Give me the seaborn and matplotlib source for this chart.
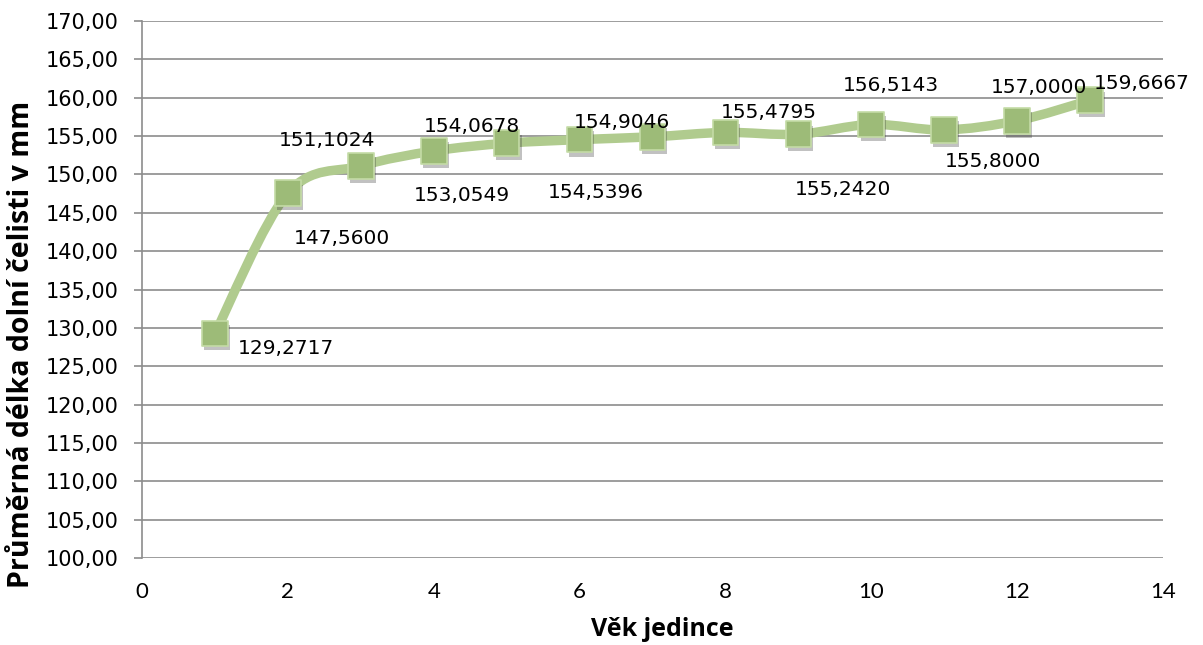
import numpy as np
import pandas as pd
import seaborn as sns
import matplotlib.pyplot as plt
from matplotlib.path import Path
from matplotlib.patches import PathPatch
from matplotlib.ticker import FuncFormatter
import matplotlib.patheffects as pe

# Mean mandible length by age
age = [1, 2, 3, 4, 5, 6, 7, 8, 9, 10, 11, 12, 13]
mean_length = [129.2717, 147.5600, 151.1024, 153.0549, 154.0678, 154.5396,
               154.9046, 155.4795, 155.2420, 156.5143, 155.8000, 157.0000,
               159.6667]

# Value-label offsets in points (dx, dy) relative to each marker
label_offsets = [(51, -11), (39, -33), (-24, 18), (20, -32), (-25, 12),
                 (12, -38), (-22, 10), (31, 14), (32, -40), (14, 28),
                 (35, -23), (16, 24), (37, 12)]

df = pd.DataFrame({"age": age, "length": mean_length})

sns.set_theme(style="white")
plt.rcParams["font.family"] = ["DejaVu Sans"]

fig = plt.figure(figsize=(12.03, 6.45), dpi=100)
ax = fig.add_axes([142 / 1203, 1 - 558 / 645, (1163 - 142) / 1203, (558 - 21) / 645])

line_color = "#b0cb8e"
face_color = "#9dbb78"
edge_color = "#c4dba6"

# Smoothed connecting curve (cubic Bezier segments through the data points)
x = np.array(df["age"], dtype=float)
y = np.array(df["length"], dtype=float)
verts = [(x[0], y[0])]
codes = [Path.MOVETO]
n = len(x)
for i in range(n - 1):
    p0 = np.array([x[max(i - 1, 0)], y[max(i - 1, 0)]])
    p1 = np.array([x[i], y[i]])
    p2 = np.array([x[i + 1], y[i + 1]])
    p3 = np.array([x[min(i + 2, n - 1)], y[min(i + 2, n - 1)]])
    c1 = p1 + (p2 - p0) / 6.0
    c2 = p2 - (p3 - p1) / 6.0
    verts += [tuple(c1), tuple(c2), tuple(p2)]
    codes += [Path.CURVE4] * 3
curve = PathPatch(Path(verts, codes), facecolor="none", edgecolor=line_color,
                  lw=6.8, capstyle="round", joinstyle="round", zorder=3)
ax.add_patch(curve)

# Square markers with a soft drop shadow
sns.scatterplot(data=df, x="age", y="length", ax=ax, marker="s", s=340,
                color=face_color, edgecolor=edge_color, linewidth=1.2,
                zorder=5, legend=False,
                path_effects=[pe.SimplePatchShadow(offset=(1.5, -3),
                                                   shadow_rgbFace="#333333",
                                                   alpha=0.3),
                              pe.Normal()])

for xi, yi, (dx, dy) in zip(age, mean_length, label_offsets):
    ax.annotate(f"{yi:.4f}".replace(".", ","), (xi, yi),
                xytext=(dx, dy), textcoords="offset points",
                ha="center", va="center", fontsize=14.5, color="#000000",
                zorder=6)

ax.set_xlim(0, 14)
ax.set_ylim(100, 170)
ax.set_xticks(range(0, 15, 2))
ax.set_yticks(range(100, 171, 5))
ax.yaxis.set_major_formatter(FuncFormatter(lambda v, p: f"{v:.2f}".replace(".", ",")))

ax.grid(axis="y", color="#8c8c8c", lw=1.2)
ax.grid(axis="x", visible=False)
ax.set_axisbelow(True)
for side in ["top", "right", "bottom"]:
    ax.spines[side].set_visible(False)
ax.spines["left"].set_color("#8c8c8c")
ax.spines["left"].set_linewidth(1.2)

ax.tick_params(axis="y", which="major", left=True, length=6, width=1.2,
               color="#8c8c8c", labelsize=15, pad=11, labelcolor="#000000")
ax.tick_params(axis="x", which="major", bottom=False, labelsize=16, pad=11,
               labelcolor="#000000")
for lbl in ax.get_xticklabels():
    lbl.set_fontfamily("Lato")

ax.set_xlabel("Věk jedince", fontsize=18, fontweight="bold",
              fontfamily="Open Sans", color="#000000")
ax.xaxis.set_label_coords(0.51, -0.11)
ax.set_ylabel("Průměrná délka dolní čelisti v mm", fontsize=20.5,
              fontweight="bold", fontfamily="Open Sans", color="#000000")
ax.yaxis.set_label_coords(-0.104, 0.397)

fig.savefig("out.png", dpi=100)
